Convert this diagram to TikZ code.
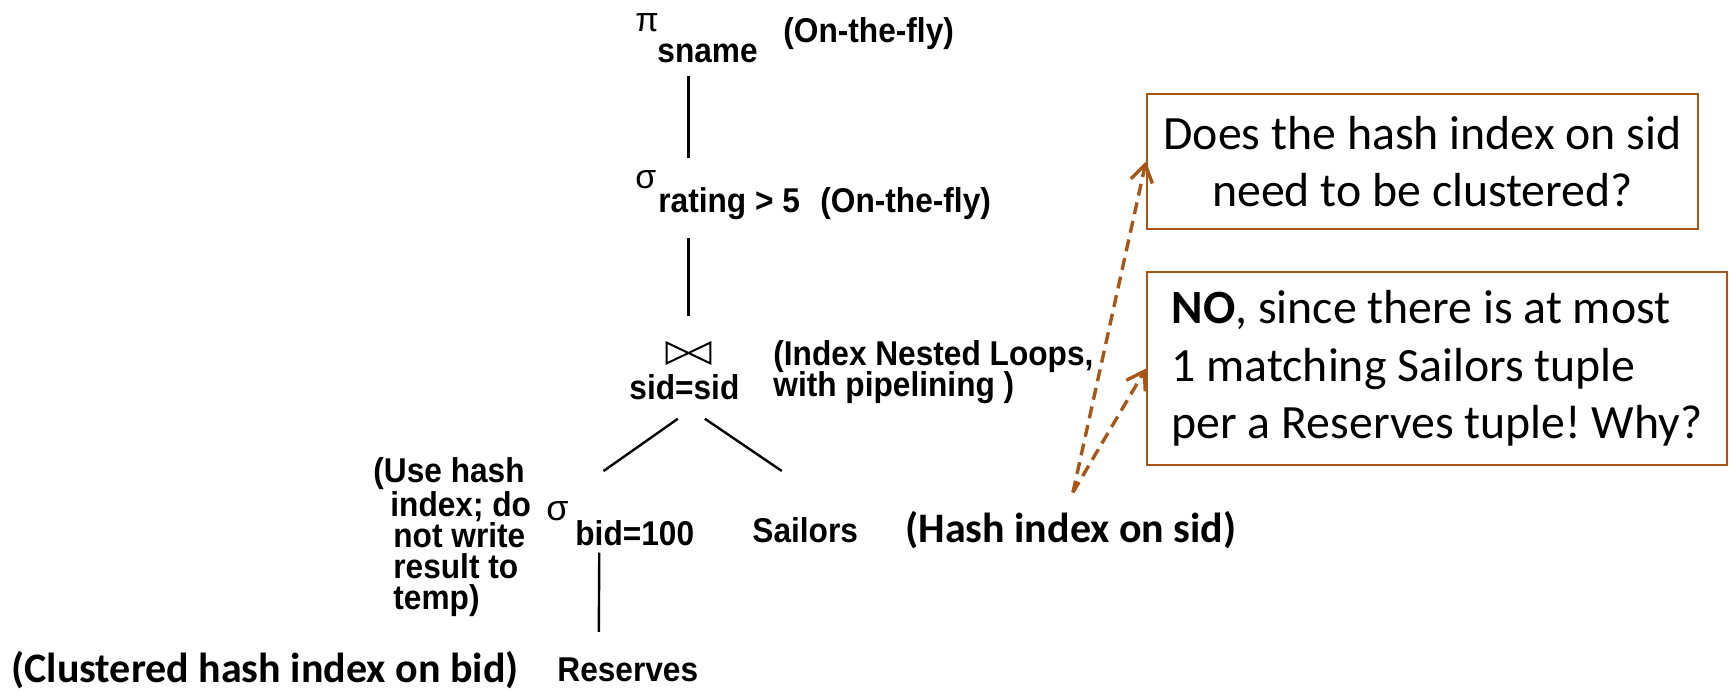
\documentclass[tikz,border=0pt]{standalone}
\usepackage{fontspec}
\setmainfont[FakeStretch=0.92]{Liberation Sans}
\newfontfamily\greekfont{Liberation Sans}
\newfontfamily\calibri{Carlito}
\usetikzlibrary{arrows.meta,calc}
\definecolor{rust}{RGB}{168,86,24}
\frenchspacing

\begin{document}
\begin{tikzpicture}[x=0.5pt,y=-0.5pt,
  op/.style={font=\bfseries\fontsize{17.2}{15.5}\selectfont, inner sep=0pt, anchor=base west},
  greek/.style={font=\greekfont\fontsize{#1}{#1}\selectfont, inner sep=0pt, anchor=base west},
  note/.style={font=\calibri\bfseries\fontsize{21}{25}\selectfont, inner sep=0pt, anchor=base west},
  qbox/.style={draw=rust, line width=1pt, font=\calibri\fontsize{23.9}{28.8}\selectfont, inner sep=0pt},
  tree/.style={line width=1.2pt},
  hint/.style={draw=rust, dash pattern=on 6pt off 3.5pt, line width=1.7pt,
    -{Straight Barb[length=8.5pt,width=11pt,line width=1.7pt]}}
]
\useasboundingbox (0,0) rectangle (1729,691);

% projection
\node[greek=17] (pi) at (635,31) {π};
\node[op] (sname) at (657,62) {sname};
\node[op] (otf1) at (783,42) {(On-the-fly)};

% selection on rating
\node[greek=17] (sigr) at (635,188) {σ};
\node[op] (rating) at (658,212) {rating > 5};
\node[op] (otf2) at (820,212) {(On-the-fly)};

% join
\node[minimum width=21.5pt, minimum height=10pt, inner sep=0pt] (join) at (688.5,353) {};
\draw[line width=1pt] (join.north west) -- (join.south west) -- (join.north east)
  -- (join.south east) -- cycle;
\node[op] (sidsid) at (629,399) {sid=sid};
\node[op] (inl) at (773,365) {(Index Nested Loops,};
\node[op] (inl2) at (773,396) {with pipelining )};

% selection on bid
\node[greek=18] (sigb) at (546,520) {σ};
\node[op] (selb) at (575,545) {bid=100};
\node[op, anchor=north west, align=left] (usehash) at (373,457)
  {(Use hash\\\hspace*{8.5pt}index; do\\\hspace*{10pt}not write\\\hspace*{10pt}result to\\\hspace*{10pt}temp)};

% relations
\node[op] (sailors) at (752,542) {Sailors};
\node[op] (reserves) at (557,681) {Reserves};

% index annotations
\node[note] (hashnote) at (905,542) {(Hash index on sid)};
\node[note] (clnote) at (11,682) {(Clustered hash index on bid)};

% tree edges
\draw[tree, shorten <=6.5pt, shorten >=5.7pt] (sname.south -| join) -- (sigr.north -| join);
\draw[tree, shorten <=9.2pt, shorten >=13.5pt] (rating.south -| join) -- (join.north);
\draw[tree] ($(sidsid.south)+(-6.5,19)$) -- ($(selb.north)+(-31.3,-48.6)$);
\draw[tree] ($(sidsid.south)+(20.5,19)$) -- ($(sailors.north)+(-23.4,-45.7)$);
\draw[tree] ($(selb.south)+(-35.5,7)$) -- ($(reserves.north)+(-29,-25)$);

% question and answer
\node[qbox, minimum width=275.5pt, minimum height=67.5pt, align=center] (q1) at (1422.5,161.5)
  {Does the hash index on sid\\need to be clustered?};
\node[qbox, minimum width=290pt, minimum height=96.5pt, align=left] (q2) at (1437,368.5)
  {\textbf{NO}, since there is at most\\1 matching Sailors tuple\\per a Reserves tuple! Why?};

\coordinate (hs) at ($(hashnote.north)+(2,-18)$);
\draw[hint] (hs) -- (q1.west);
\draw[hint] (hs) -- (q2.west);
\end{tikzpicture}
\end{document}
